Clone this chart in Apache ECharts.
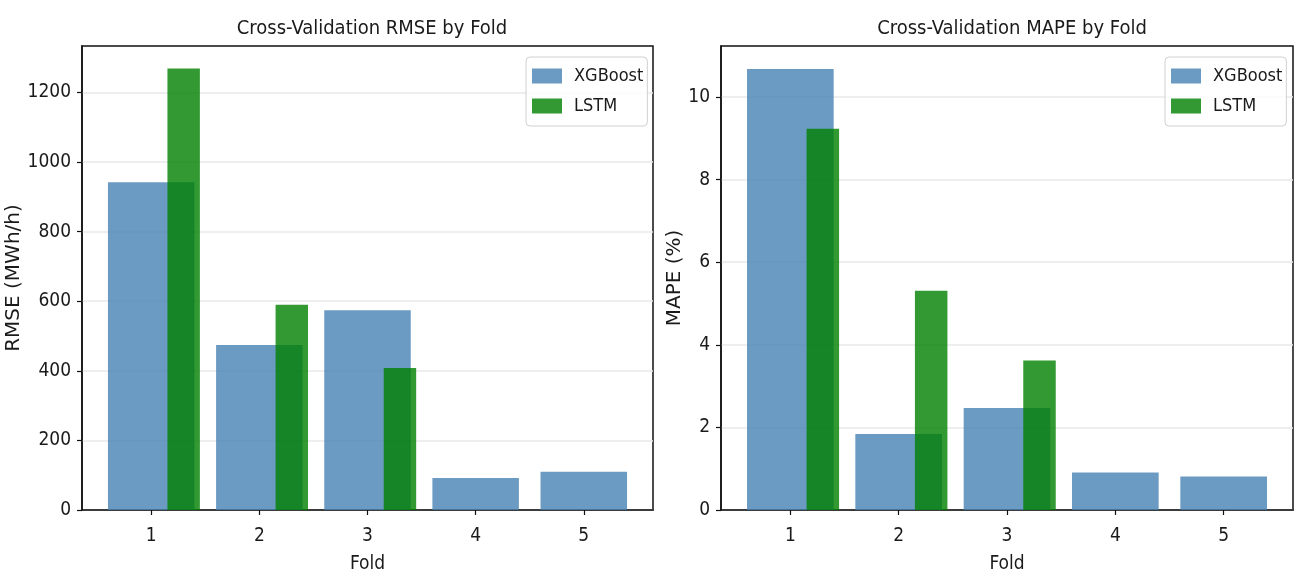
<!DOCTYPE html>
<html>
<head>
<meta charset="utf-8">
<script src="https://cdn.jsdelivr.net/npm/echarts@6/dist/echarts.min.js"></script>
<style>
html,body{margin:0;padding:0;background:#fff;}
#c{width:1301px;height:579px;}
</style>
</head>
<body>
<div id="c"></div>
<script>
var folds = [1, 2, 3, 4, 5];
var rmseXgb = [942, 474, 574, 92, 110];
var rmseLstmFolds = [1, 2, 3];
var rmseLstm = [1269, 590, 408];
var mapeXgb = [10.68, 1.84, 2.47, 0.91, 0.81];
var mapeLstmFolds = [1, 2, 3];
var mapeLstm = [9.23, 5.31, 3.62];
var rmseTicks = [0, 200, 400, 600, 800, 1000, 1200];
var mapeTicks = [0, 2, 4, 6, 8, 10];
var foldTicks = [1, 2, 3, 4, 5];

var FONT = 'DejaVu Sans Condensed';
var INK = '#1a1a1a';
var FRAME = '#111';
var XGB_COLOR = 'rgba(70,130,180,0.8)';
var LSTM_COLOR = 'rgba(0,128,0,0.8)';

function pairs(xs, ys) { return xs.map(function (x, i) { return [x, ys[i]]; }); }

function barRenderer(offset, width) {
  return function (params, api) {
    var x = api.value(0), y = api.value(1);
    var p0 = api.coord([x + offset - width / 2, y]);
    var p1 = api.coord([x + offset + width / 2, 0]);
    return {
      type: 'rect',
      shape: { x: p0[0], y: p0[1], width: p1[0] - p0[0], height: p1[1] - p0[1] },
      style: api.style()
    };
  };
}

var grids = [
  { left: 82, top: 46, width: 571, height: 467 },
  { left: 721, top: 46, width: 572, height: 467 }
];

function plain(v) { return String(v); }

function xAxisFor(i) {
  return {
    type: 'value', gridIndex: i, min: 0.36, max: 5.64,
    name: 'Fold', nameLocation: 'middle', nameGap: 45,
    nameTextStyle: { fontFamily: FONT, fontSize: 19, color: INK },
    axisLine: { show: true, lineStyle: { color: FRAME, width: 1.5 } },
    axisTick: { show: true, inside: false, length: 5, customValues: foldTicks, lineStyle: { color: FRAME, width: 1.2 } },
    axisLabel: { customValues: foldTicks, margin: 17, fontFamily: FONT, fontSize: 19, color: INK, formatter: plain },
    splitLine: { show: false }
  };
}

function yAxisFor(i, max, ticks, name, gap) {
  return {
    type: 'value', gridIndex: i, min: 0, max: max,
    name: name, nameLocation: 'middle', nameGap: gap, nameRotate: 90,
    nameTextStyle: { fontFamily: 'DejaVu Sans', fontSize: 20, color: INK },
    axisLine: { show: true, lineStyle: { color: FRAME, width: 1.5 } },
    axisTick: { show: true, inside: false, length: 5, customValues: ticks, lineStyle: { color: FRAME, width: 1.2 } },
    axisLabel: { customValues: ticks, margin: 11, fontFamily: FONT, fontSize: 19, color: INK, formatter: plain },
    splitLine: { show: true, lineStyle: { color: '#e8e8e8', width: 1.5 } }
  };
}

function legendFor(i, left) {
  return {
    show: true, orient: 'vertical', left: left, top: 57,
    padding: [10, 4, 11, 6], itemGap: 12, itemWidth: 30, itemHeight: 15,
    backgroundColor: 'rgba(255,255,255,0.8)', borderColor: '#d0d0d0', borderWidth: 1, borderRadius: 4,
    textStyle: { fontFamily: FONT, fontSize: 18, color: INK, padding: [0, 0, 0, 7] },
    data: [{ name: 'XGBoost', icon: 'rect' }, { name: 'LSTM', icon: 'rect' }],
    selectedMode: false
  };
}

var option = {
  animation: false,
  backgroundColor: '#fff',
  title: [
    { text: 'Cross-Validation RMSE by Fold', left: 367, top: 14, textAlign: 'center',
      textStyle: { fontFamily: FONT, fontSize: 20, fontWeight: 'normal', color: INK } },
    { text: 'Cross-Validation MAPE by Fold', left: 1007, top: 14, textAlign: 'center',
      textStyle: { fontFamily: FONT, fontSize: 20, fontWeight: 'normal', color: INK } }
  ],
  legend: [legendFor(0, 526), legendFor(1, 1165)],
  grid: grids.map(function (g) {
    return Object.assign({ show: true, borderColor: FRAME, borderWidth: 1.5, backgroundColor: 'transparent', containLabel: false }, g);
  }),
  xAxis: [xAxisFor(0), xAxisFor(1)],
  yAxis: [
    yAxisFor(0, 1333.5, rmseTicks, 'RMSE (MWh/h)', 44),
    yAxisFor(1, 11.235, mapeTicks, 'MAPE (%)', 35)
  ],
  series: [
    { type: 'custom', name: 'XGBoost', xAxisIndex: 0, yAxisIndex: 0, renderItem: barRenderer(0, 0.8),
      itemStyle: { color: XGB_COLOR }, encode: { x: 0, y: 1 }, data: pairs(folds, rmseXgb), z: 2 },
    { type: 'custom', name: 'LSTM', xAxisIndex: 0, yAxisIndex: 0, renderItem: barRenderer(0.3, 0.3),
      itemStyle: { color: LSTM_COLOR }, encode: { x: 0, y: 1 }, data: pairs(rmseLstmFolds, rmseLstm), z: 3 },
    { type: 'custom', name: 'XGBoost', xAxisIndex: 1, yAxisIndex: 1, renderItem: barRenderer(0, 0.8),
      itemStyle: { color: XGB_COLOR }, encode: { x: 0, y: 1 }, data: pairs(folds, mapeXgb), z: 2 },
    { type: 'custom', name: 'LSTM', xAxisIndex: 1, yAxisIndex: 1, renderItem: barRenderer(0.3, 0.3),
      itemStyle: { color: LSTM_COLOR }, encode: { x: 0, y: 1 }, data: pairs(mapeLstmFolds, mapeLstm), z: 3 }
  ]
};

var chart = echarts.init(document.getElementById('c'), null, { renderer: 'canvas' });
chart.setOption(option);
</script>
</body>
</html>
